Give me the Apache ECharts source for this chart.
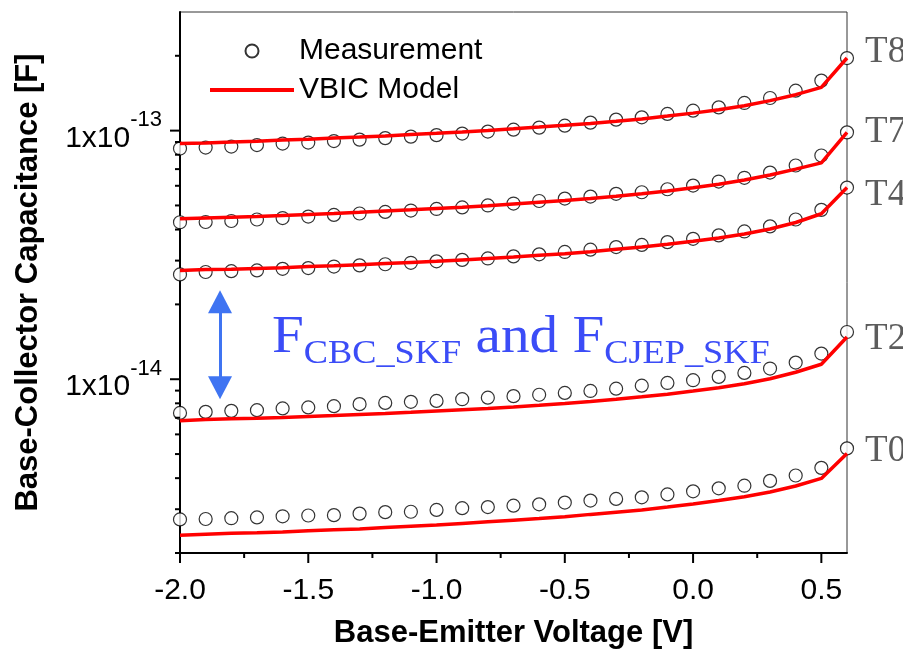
<!DOCTYPE html>
<html>
<head>
<meta charset="utf-8">
<script src="https://cdn.jsdelivr.net/npm/echarts@6/dist/echarts.min.js"></script>
<style>
  html, body { margin: 0; padding: 0; background: #fff; }
  #chart { width: 903px; height: 653px; }
</style>
</head>
<body>
<div id="chart"></div>
<script>
// Base-emitter bias points [V]
const voltage = [-2.0, -1.9, -1.8, -1.7, -1.6, -1.5, -1.4, -1.3, -1.2, -1.1, -1.0, -0.9, -0.8, -0.7,
                 -0.6, -0.5, -0.4, -0.3, -0.2, -0.1, 0.0, 0.1, 0.2, 0.3, 0.4, 0.5, 0.6];

// Base-collector capacitance, in fF (1 fF = 1e-15 F)
const measT8  = [84.7, 85.5, 86.3, 87.5, 88.7, 89.5, 90.8, 92.0, 93.3, 94.6, 95.9, 97.3, 99.1, 100.9,
                 102.8, 104.7, 107.7, 110.7, 113.1, 116.7, 120.3, 124.0, 129.2, 135.3, 144.8, 158.9, 195.8];
const modelT8 = [88.7, 89.2, 89.9, 90.7, 91.6, 92.4, 93.3, 94.2, 95.2, 96.4, 97.5, 98.8, 100.2, 101.7,
                 103.3, 105.0, 106.9, 109.0, 111.4, 114.4, 117.6, 121.4, 126.0, 132.0, 139.5, 149.2, 195.9];

const measT7  = [42.8, 42.9, 43.3, 43.9, 44.5, 45.1, 45.8, 46.4, 47.1, 47.7, 48.4, 49.1, 50.0, 50.9,
                 52.1, 53.3, 54.3, 55.7, 56.5, 58.1, 60.1, 62.4, 64.6, 67.8, 72.4, 79.4, 98.4];
const modelT7 = [44.2, 44.5, 44.8, 45.1, 45.6, 46.0, 46.4, 46.9, 47.5, 48.0, 48.6, 49.2, 49.9, 50.7,
                 51.5, 52.3, 53.3, 54.4, 55.7, 57.2, 58.9, 60.9, 63.3, 66.3, 70.0, 74.2, 98.4];

const measT4  = [26.4, 27.0, 27.2, 27.4, 27.8, 28.0, 28.4, 28.7, 29.0, 29.4, 29.8, 30.2, 30.6, 31.2,
                 31.8, 32.5, 33.2, 34.0, 34.7, 35.6, 36.7, 37.9, 39.3, 41.2, 43.9, 48.0, 59.0];
const modelT4 = [27.4, 27.6, 27.7, 27.9, 28.1, 28.4, 28.6, 28.9, 29.2, 29.5, 29.8, 30.2, 30.6, 31.0,
                 31.5, 32.0, 32.6, 33.3, 34.0, 34.9, 35.9, 37.0, 38.4, 40.2, 42.7, 46.3, 59.0];

const measT2  = [7.32, 7.39, 7.46, 7.51, 7.63, 7.70, 7.79, 7.94, 8.03, 8.11, 8.18, 8.31, 8.43, 8.55,
                 8.66, 8.81, 8.97, 9.16, 9.42, 9.66, 9.91, 10.22, 10.60, 11.04, 11.67, 12.68, 15.49];
const modelT2 = [6.81, 6.88, 6.93, 6.97, 7.02, 7.08, 7.14, 7.21, 7.28, 7.36, 7.45, 7.54, 7.63, 7.74,
                 7.86, 7.99, 8.14, 8.31, 8.50, 8.71, 8.96, 9.24, 9.59, 10.05, 10.67, 11.49, 14.79];

const measT0  = [2.73, 2.74, 2.76, 2.78, 2.81, 2.83, 2.84, 2.88, 2.92, 2.93, 2.98, 3.03, 3.06, 3.10,
                 3.14, 3.19, 3.25, 3.30, 3.35, 3.44, 3.54, 3.64, 3.73, 3.90, 4.10, 4.40, 5.27];
const modelT0 = [2.36, 2.38, 2.40, 2.41, 2.43, 2.46, 2.48, 2.50, 2.53, 2.56, 2.59, 2.63, 2.67, 2.71,
                 2.75, 2.80, 2.86, 2.92, 2.98, 3.06, 3.15, 3.25, 3.37, 3.52, 3.72, 3.99, 5.03];

const curveTags = ['T8', 'T7', 'T4', 'T2', 'T0'];

// Tick positions (axis units: V and fF)
const xTicks = [-2.0, -1.75, -1.5, -1.25, -1.0, -0.75, -0.5, -0.25, 0.0, 0.25, 0.5];
const xMajorTicks = [-2.0, -1.5, -1.0, -0.5, 0.0, 0.5];
const yTicks = [2, 3, 4, 5, 6, 7, 8, 9, 10, 20, 30, 40, 50, 60, 70, 80, 90, 100, 200];
const yMajorTicks = [10, 100];

// Double arrow between the T4 and T2 curves
const arrowV = -1.844;
const arrowEnds = [20.5, 9.24];

const X_MIN = -2.0, X_MAX = 0.6, Y_MIN = 2, Y_MAX = 300;
const SANS = "Arial, 'Liberation Sans', sans-serif";
const SERIF = "'Times New Roman', 'Liberation Serif', serif";

const curves = [
  { tag: curveTags[0], meas: measT8, model: modelT8, dy: -6 },
  { tag: curveTags[1], meas: measT7, model: modelT7, dy: 0 },
  { tag: curveTags[2], meas: measT4, model: modelT4, dy: 8 },
  { tag: curveTags[3], meas: measT2, model: modelT2, dy: 7 },
  { tag: curveTags[4], meas: measT0, model: modelT0, dy: 3 }
];

const series = [];
curves.forEach((c, ci) => {
  const last = voltage.length - 1;
  series.push({
    name: 'Measurement',
    type: 'scatter',
    symbol: 'circle',
    symbolSize: 13,
    z: 2,
    itemStyle: { color: '#fff', borderColor: '#000', borderWidth: 1.2 },
    emphasis: { disabled: true },
    data: voltage.map((v, i) => i === last ? {
      value: [v, c.meas[i]],
      label: {
        show: true, position: 'right', distance: 11, offset: [0, c.dy],
        formatter: c.tag, fontFamily: SERIF, fontSize: 37, color: '#333'
      }
    } : [v, c.meas[i]])
  });
  const line = {
    name: 'VBIC Model',
    type: 'line',
    symbol: 'none',
    z: 3,
    lineStyle: { color: '#ff0000', width: 3.5 },
    itemStyle: { color: '#ff0000' },
    emphasis: { disabled: true },
    data: voltage.map((v, i) => [v, c.model[i]])
  };
  if (ci === 0) {
    line.markLine = {
      silent: true,
      symbol: ['triangle', 'triangle'],
      symbolSize: [24, 23],
      label: { show: false },
      lineStyle: { color: '#3f74f2', width: 3, type: 'solid' },
      itemStyle: { color: '#3f74f2' },
      data: [[{ coord: [arrowV, arrowEnds[0]] }, { coord: [arrowV, arrowEnds[1]] }]]
    };
  }
  series.push(line);
});

// Tick marks drawn outward from the left and bottom axes
const tickData = [];
yTicks.forEach(v => tickData.push([X_MIN, v, yMajorTicks.includes(v) ? 10 : 5, 0]));
xTicks.forEach(v => tickData.push([v, Y_MIN, xMajorTicks.includes(v) ? 10 : 5, 1]));
series.push({
  type: 'custom',
  coordinateSystem: 'cartesian2d',
  silent: true,
  clip: false,
  z: 6,
  data: tickData,
  renderItem: (params, api) => {
    const p = api.coord([api.value(0), api.value(1)]);
    const len = api.value(2);
    const shape = api.value(3) === 0
      ? { x1: p[0] - len, y1: p[1], x2: p[0], y2: p[1] }
      : { x1: p[0], y1: p[1], x2: p[0], y2: p[1] + len };
    return { type: 'line', shape, style: { stroke: '#000', lineWidth: 2 } };
  }
});

const chart = echarts.init(document.getElementById('chart'), null, { renderer: 'canvas' });
chart.setOption({
  animation: false,
  backgroundColor: '#fff',
  grid: {
    left: 180, right: 56, top: 12, bottom: 100,
    outerBoundsMode: 'none', containLabel: false,
    show: true, borderColor: '#333', borderWidth: 1
  },
  legend: {
    data: [
      'Measurement',
      {
        name: 'VBIC Model',
        itemStyle: { opacity: 0, color: 'transparent', borderColor: 'transparent' },
        lineStyle: { width: 4, color: '#ff0000' }
      }
    ],
    orient: 'vertical',
    left: 203,
    top: 31,
    itemWidth: 84,
    itemHeight: 13,
    itemGap: 9,
    selectedMode: false,
    textStyle: { fontFamily: SANS, fontSize: 30, color: '#000' }
  },
  xAxis: {
    type: 'value',
    min: X_MIN, max: X_MAX, interval: 0.5,
    axisLine: { show: true, onZero: false, lineStyle: { color: '#000', width: 2 } },
    axisTick: { show: false },
    splitLine: { show: false },
    axisLabel: {
      margin: 23, fontFamily: SANS, fontSize: 30, color: '#000',
      formatter: v => Math.abs(v * 2 - Math.round(v * 2)) < 1e-9 ? v.toFixed(1) : ''
    },
    name: 'Base-Emitter Voltage [V]',
    nameLocation: 'middle',
    nameGap: 65,
    nameTextStyle: { fontFamily: SANS, fontSize: 31, fontWeight: 'bold', color: '#000' }
  },
  yAxis: {
    type: 'log',
    logBase: 10,
    min: Y_MIN, max: Y_MAX,
    axisLine: { show: true, onZero: false, lineStyle: { color: '#000', width: 2 } },
    axisTick: { show: false },
    splitLine: { show: false },
    axisLabel: {
      margin: 18, color: '#000',
      formatter: v => {
        const e = Math.round(Math.log10(v));
        if (Math.abs(v - Math.pow(10, e)) > 1e-6 * v || (e !== 1 && e !== 2)) return '';
        return '{b|1x10}{s|' + (e - 15) + '}';
      },
      rich: {
        b: { fontFamily: SANS, fontSize: 30, lineHeight: 30, color: '#000', padding: [16, 0, 0, 0] },
        s: { fontFamily: SANS, fontSize: 22, lineHeight: 22, color: '#000', padding: [0, 0, 21, 0] }
      }
    },
    name: 'Base-Collector Capacitance [F]',
    nameLocation: 'middle',
    nameGap: 136,
    nameTextStyle: { fontFamily: SANS, fontSize: 31, fontWeight: 'bold', color: '#000' }
  },
  graphic: [{
    type: 'text',
    x: 272,
    y: 312,
    scaleX: 1.1,
    z: 10,
    silent: true,
    style: {
      text: '{m|F}{s|CBC_SKF}{m| and F}{s|CJEP_SKF}',
      fill: '#3b4cf7',
      rich: {
        m: { fontFamily: SERIF, fontSize: 52, lineHeight: 52, fill: '#3b4cf7' },
        s: { fontFamily: SERIF, fontSize: 33, lineHeight: 33, fill: '#3b4cf7', padding: [33, 0, 0, 0] }
      }
    }
  }],
  series
});
</script>
</body>
</html>
